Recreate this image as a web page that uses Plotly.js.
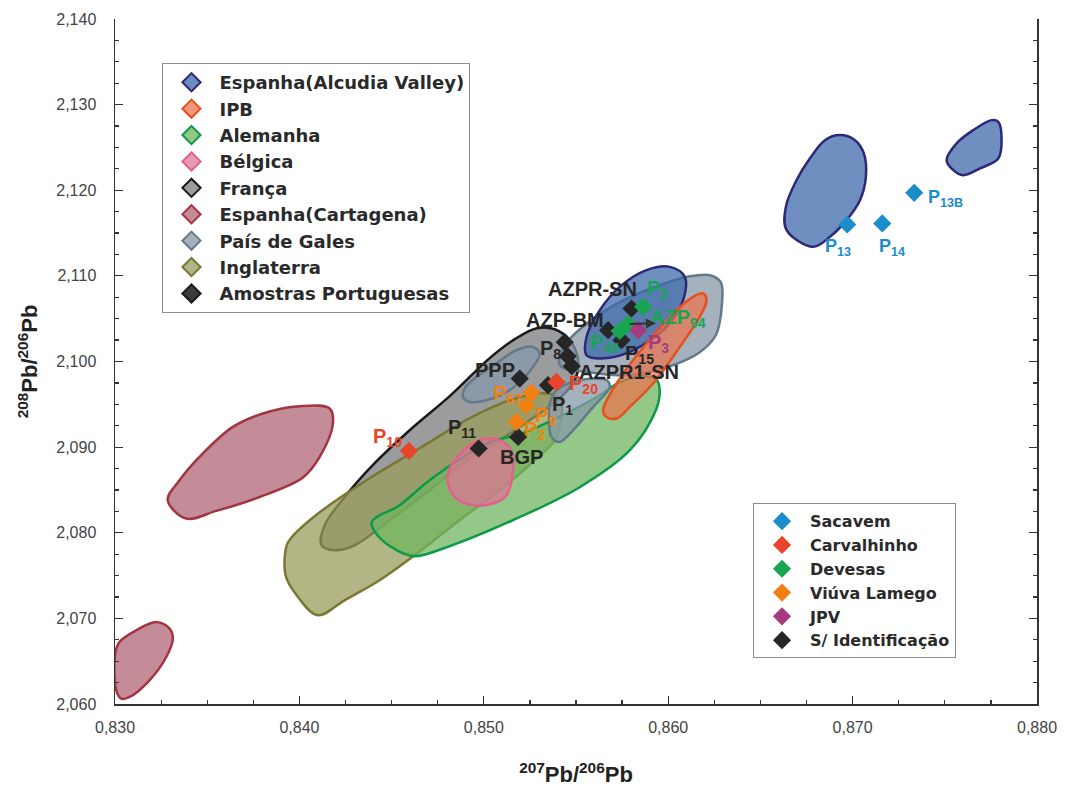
<!DOCTYPE html>
<html><head><meta charset="utf-8">
<script src="https://cdn.plot.ly/plotly-3.0.1.min.js"></script>
<style>html,body{margin:0;padding:0;background:#fff}</style>
</head><body>
<div id="chart" style="width:1066px;height:787px"></div>
<script>
// ---- Region outlines: x = 207Pb/206Pb, y = 208Pb/206Pb ----
const alcudiaAX = [0.86642,0.86786,0.86877,0.86967,0.87040,0.87072,0.87061,0.87013,0.86931,0.86850,0.86768,0.86696,0.86638];
const alcudiaAY = [2.11534,2.11339,2.11456,2.11651,2.11884,2.12157,2.12430,2.12585,2.12644,2.12585,2.12371,2.12118,2.11806];
const alcudiaBX = [0.87510,0.87546,0.87600,0.87691,0.87790,0.87808,0.87790,0.87754,0.87654,0.87564];
const alcudiaBY = [2.12352,2.12235,2.12176,2.12255,2.12371,2.12585,2.12799,2.12819,2.12702,2.12547];
const alcudiaCX = [0.85557,0.85629,0.85792,0.85991,0.86081,0.86090,0.86009,0.85882,0.85737,0.85629,0.85557];
const alcudiaCY = [2.10074,2.10035,2.10112,2.10404,2.10716,2.10988,2.11105,2.11067,2.10871,2.10599,2.10287];
const ipbX = [0.85665,0.85647,0.85720,0.85882,0.86027,0.86135,0.86189,0.86208,0.86171,0.86063,0.85918,0.85792,0.85720];
const ipbY = [2.09353,2.09431,2.09743,2.10210,2.10561,2.10755,2.10794,2.10716,2.10521,2.10171,2.09743,2.09470,2.09334];
const alemanhaX = [0.84392,0.84419,0.84527,0.84625,0.84799,0.85157,0.85520,0.85792,0.85933,0.85954,0.85938,0.85846,0.85737,0.85629,0.85450,0.85211,0.85032,0.84886,0.84706,0.84527,0.84435];
const alemanhaY = [2.08123,2.07982,2.07796,2.07725,2.07831,2.08146,2.08532,2.08964,2.09431,2.09665,2.09782,2.09828,2.09758,2.09606,2.09396,2.09162,2.09057,2.08882,2.08613,2.08298,2.08204];
const belgicaX = [0.84806,0.84851,0.84941,0.85050,0.85123,0.85158,0.85150,0.85086,0.85014,0.84924,0.84842,0.84806];
const belgicaY = [2.08575,2.08400,2.08321,2.08341,2.08438,2.08730,2.08964,2.09081,2.09100,2.09022,2.08847,2.08692];
const francaX = [0.84120,0.84137,0.84245,0.84408,0.84598,0.84815,0.85032,0.85168,0.85287,0.85385,0.85466,0.85510,0.85499,0.85412,0.85249,0.85086,0.84924,0.84706,0.84489,0.84300,0.84191];
const francaY = [2.07854,2.08088,2.08415,2.08812,2.09197,2.09595,2.10039,2.10261,2.10389,2.10377,2.10249,2.10039,2.09805,2.09571,2.09314,2.09081,2.08870,2.08497,2.08146,2.07854,2.07796];
const cartagenaAX = [0.83286,0.83386,0.83549,0.83784,0.84019,0.84110,0.84182,0.84164,0.84001,0.83802,0.83639,0.83458,0.83350];
const cartagenaAY = [2.08380,2.08166,2.08255,2.08418,2.08645,2.08886,2.09276,2.09451,2.09478,2.09393,2.09236,2.08886,2.08613];
const cartagenaBX = [0.83001,0.83007,0.83034,0.83079,0.83187,0.83278,0.83314,0.83296,0.83224,0.83115,0.83024];
const cartagenaBY = [2.06589,2.06160,2.06063,2.06082,2.06277,2.06549,2.06764,2.06881,2.06958,2.06861,2.06724];
const galesAX = [0.85412,0.85575,0.85792,0.86009,0.86171,0.86258,0.86291,0.86285,0.86226,0.86117,0.85954,0.85737,0.85547,0.85439];
const galesAY = [2.09957,2.09875,2.09840,2.09945,2.10109,2.10307,2.10658,2.10926,2.11008,2.10996,2.10891,2.10693,2.10424,2.10190];
const galesBX = [0.84887,0.84924,0.85014,0.85141,0.85267,0.85303,0.85267,0.85177,0.85068,0.84960,0.84896];
const galesBY = [2.09586,2.09528,2.09548,2.09665,2.09937,2.10093,2.10171,2.10132,2.09977,2.09820,2.09685];
const galesCX = [0.85394,0.85520,0.85665,0.85683,0.85593,0.85484,0.85412,0.85367,0.85354,0.85358];
const galesCY = [2.09665,2.09782,2.09782,2.09703,2.09470,2.09197,2.09061,2.09119,2.09314,2.09509];
const inglaterraX = [0.83931,0.83925,0.83985,0.84099,0.84245,0.84435,0.84625,0.84869,0.85086,0.85276,0.85385,0.85423,0.85412,0.85330,0.85141,0.84924,0.84652,0.84381,0.84110,0.83958];
const inglaterraY = [2.07854,2.07503,2.07270,2.07036,2.07211,2.07445,2.07737,2.08146,2.08497,2.08847,2.09081,2.09373,2.09571,2.09630,2.09548,2.09338,2.08987,2.08637,2.08239,2.07947];

// ---- Portuguese samples ----
const sacavemX = [0.86971,0.87161,0.87334];
const sacavemY = [2.11600,2.11612,2.11970];
const sacavemLabels = ['P<sub>13</sub>','P<sub>14</sub>','P<sub>13B</sub>'];
const sacavemLabelX = [0.86920,0.87213,0.87506];
const sacavemLabelY = [2.11332,2.11332,2.11908];

const carvalhinhoX = [0.84594,0.85394];
const carvalhinhoY = [2.08956,2.09762];
const carvalhinhoLabels = ['P<sub>10</sub>','P<sub>20</sub>'];
const carvalhinhoLabelX = [0.84479,0.85542];
const carvalhinhoLabelY = [2.09116,2.09735];

const devesasX = [0.85864,0.85782,0.85737];
const devesasY = [2.10638,2.10436,2.10357];
const devesasLabels = ['P<sub>2</sub>','AZP<sub>94</sub>','P<sub>4II</sub>'];
const devesasLabelX = [0.85944,0.86052,0.85656];
const devesasLabelY = [2.10845,2.10506,2.10214];

const viuvaX = [0.85258,0.85231,0.85177];
const viuvaY = [2.09636,2.09484,2.09294];
const viuvaLabels = ['P<sub>67</sub>','P<sub>9</sub>','P<sub>2</sub>'];
const viuvaLabelX = [0.85130,0.85336,0.85276];
const viuvaLabelY = [2.09618,2.09361,2.09197];

const jpvX = [0.85837];
const jpvY = [2.10366];
const jpvLabels = ['P<sub>3</sub>'];
const jpvLabelX = [0.85949];
const jpvLabelY = [2.10214];

const semIdX = [0.85801,0.85674,0.85747,0.85439,0.85455,0.85477,0.85195,0.85348,0.85186,0.84972];
const semIdY = [2.10619,2.10366,2.10249,2.10226,2.10062,2.09945,2.09801,2.09723,2.09119,2.08984];
const semIdLabels = ['AZPR-SN','AZP-BM','P<sub>15</sub>','P<sub>8</sub>','','AZPR1-SN','PPP','P<sub>1</sub>','BGP','P<sub>11</sub>'];
const semIdLabelX = [0.85591,0.85439,0.85846,0.85363,null,0.85790,0.85059,0.85428,0.85206,0.84880];
const semIdLabelY = [2.10845,2.10482,2.10080,2.10144,null,2.09877,2.09898,2.09489,2.08882,2.09221];

// AZP94 pointer (from sample to label)
const arrowTail = [0.85782, 2.10436];
const arrowHead = [0.85933, 2.10447];

const regionNames = ['Espanha(Alcudia Valley)','IPB','Alemanha','Bélgica','França','Espanha(Cartagena)','País de Gales','Inglaterra','Amostras Portuguesas'];
const sampleNames = ['Sacavem','Carvalhinho','Devesas','Viúva Lamego','JPV','S/ Identificação'];

// ---- styles ----
const st = {
  alcudia:   {fill:'rgba(62,106,170,0.75)',  line:'#2e2878'},
  ipb:       {fill:'rgba(235,115,78,0.72)',  line:'#e65020'},
  alemanha:  {fill:'rgba(112,182,96,0.75)',  line:'#0d9a48'},
  belgica:   {fill:'rgba(222,115,148,0.72)', line:'#e3608e'},
  franca:    {fill:'rgba(122,123,126,0.75)', line:'#1a1a1a'},
  cartagena: {fill:'rgba(176,102,118,0.75)', line:'#a23540'},
  gales:     {fill:'rgba(135,152,168,0.75)', line:'#627a8c'},
  inglaterra:{fill:'rgba(152,158,91,0.75)',  line:'#7c7634'},
  amostras:  {fill:'#3d3a38', line:'#1a1a1a'}
};
const sampleCol = ['#1b8ccc','#e8442a','#17a552','#f28010','#a63a7e','#262626'];

function region(x, y, s){
  return {x: x.concat([x[0]]), y: y.concat([y[0]]), type:'scatter', mode:'lines', fill:'toself',
    fillcolor: s.fill, line:{color:s.line, width:2.5, shape:'spline', smoothing:1},
    hoverinfo:'skip', showlegend:false};
}
const traces = [
  region(francaX, francaY, st.franca),
  region(inglaterraX, inglaterraY, st.inglaterra),
  region(galesBX, galesBY, st.gales),
  region(alemanhaX, alemanhaY, st.alemanha),
  region(galesCX, galesCY, st.gales),
  region(belgicaX, belgicaY, st.belgica),
  region(galesAX, galesAY, st.gales),
  region(alcudiaAX, alcudiaAY, st.alcudia),
  region(alcudiaBX, alcudiaBY, st.alcudia),
  region(alcudiaCX, alcudiaCY, st.alcudia),
  region(ipbX, ipbY, st.ipb),
  region(cartagenaAX, cartagenaAY, st.cartagena),
  region(cartagenaBX, cartagenaBY, st.cartagena)
];

// legend 1 (reference fields)
const legStyles = [st.alcudia, st.ipb, st.alemanha, st.belgica, st.franca, st.cartagena, st.gales, st.inglaterra, st.amostras];
const legFills = ['#6a8cbe','#f0967a','#94c888','#e89ab2','#9b9c9e','#c48c98','#a5b2be','#b2b684','#3d3a38'];
regionNames.forEach((n,i)=>{
  traces.push({x:[null], y:[null], type:'scatter', mode:'markers', name:n, legend:'legend',
    legendgroup:'r'+i, legendrank:i+1,
    marker:{symbol:'diamond', size:14, color:legFills[i], line:{color:legStyles[i].line, width:2}}});
});

// samples
const sampleSets = [
  [sacavemX, sacavemY], [carvalhinhoX, carvalhinhoY], [devesasX, devesasY],
  [viuvaX, viuvaY], [jpvX, jpvY], [semIdX, semIdY]
];
const drawOrder = [5,0,3,1,2,4];
drawOrder.forEach(i=>{
  traces.push({x:sampleSets[i][0], y:sampleSets[i][1], type:'scatter', mode:'markers', name:sampleNames[i],
    legend:'legend2', legendgroup:'s'+i, legendrank:i+1, hoverinfo:'x+y',
    marker:{symbol:'diamond', size:14, color:sampleCol[i], line:{width:0}}});
});

// labels
const annotations = [];
const labelSets = [
  [sacavemLabels, sacavemLabelX, sacavemLabelY, 0, 18],
  [carvalhinhoLabels, carvalhinhoLabelX, carvalhinhoLabelY, 1, 20],
  [devesasLabels, devesasLabelX, devesasLabelY, 2, 20],
  [viuvaLabels, viuvaLabelX, viuvaLabelY, 3, 20],
  [jpvLabels, jpvLabelX, jpvLabelY, 4, 20],
  [semIdLabels, semIdLabelX, semIdLabelY, 5, 20]
];
labelSets.forEach(([labs, lx, ly, ci, fs])=>{
  labs.forEach((t,k)=>{
    if(!t) return;
    annotations.push({x:lx[k], y:ly[k], xref:'x', yref:'y', text:'<b>'+t+'</b>', showarrow:false,
      xanchor:'center', yanchor:'middle', font:{family:'Liberation Sans, Arial, sans-serif', size:fs, color:sampleCol[ci]}});
  });
});
annotations.push({x:arrowHead[0], y:arrowHead[1], ax:arrowTail[0], ay:arrowTail[1], xref:'x', yref:'y', axref:'x', ayref:'y',
  text:'', showarrow:true, arrowhead:2, arrowsize:1, arrowwidth:2, arrowcolor:'#333'});

const tickFont = {family:'Liberation Sans, Arial, sans-serif', size:16, color:'#444'};
const layout = {
  width:1066, height:787,
  margin:{l:115, r:29, t:19, b:83},
  paper_bgcolor:'#fff', plot_bgcolor:'#fff',
  separators:', ',
  showlegend:true,
  xaxis:{range:[0.830,0.880], dtick:0.01, tick0:0.83, tickformat:'.3f', ticks:'inside', ticklen:8, tickwidth:1.2, tickcolor:'#333',
    showline:true, linecolor:'#333', linewidth:1.5, mirror:false, showgrid:false, zeroline:false, tickfont:tickFont,
    ticklabelstandoff:8,
    minor:{dtick:0.0025, ticks:'inside', ticklen:4, tickcolor:'#333', showgrid:false},
    title:{text:'<b><sup>207</sup>Pb/<sup>206</sup>Pb</b>', font:{family:'Liberation Sans, Arial, sans-serif', size:22, color:'#222'}, standoff:32},
    automargin:false},
  yaxis:{range:[2.060,2.140], dtick:0.01, tick0:2.06, tickformat:'.3f', ticks:'inside', ticklen:8, tickwidth:1.2, tickcolor:'#333',
    showline:true, linecolor:'#333', linewidth:1.5, mirror:'ticks', showgrid:false, zeroline:false, tickfont:tickFont,
    ticklabelstandoff:14,
    minor:{dtick:0.0025, ticks:'inside', ticklen:4, tickcolor:'#333', showgrid:false},
    title:{text:'<b><sup>208</sup>Pb/<sup>206</sup>Pb</b>', font:{family:'Liberation Sans, Arial, sans-serif', size:22, color:'#222'}, standoff:12},
    automargin:false},
  legend:{x:0.0515, y:0.9357, xanchor:'left', yanchor:'top', bgcolor:'#fff', bordercolor:'#8c8c8c', borderwidth:1,
    font:{family:'DejaVu Sans, sans-serif', size:18, color:'#2a2a2a', weight:'bold'}, itemwidth:46, tracegroupgap:0,
    traceorder:'normal'},
  legend2:{x:0.692, y:0.2931, xanchor:'left', yanchor:'top', bgcolor:'#fff', bordercolor:'#8c8c8c', borderwidth:1,
    font:{family:'DejaVu Sans, sans-serif', size:16, color:'#2a2a2a', weight:'bold'}, itemwidth:46, tracegroupgap:0,
    traceorder:'normal'},
  annotations: annotations
};
Plotly.newPlot('chart', traces, layout, {displayModeBar:false, staticPlot:true});
</script>
</body></html>
